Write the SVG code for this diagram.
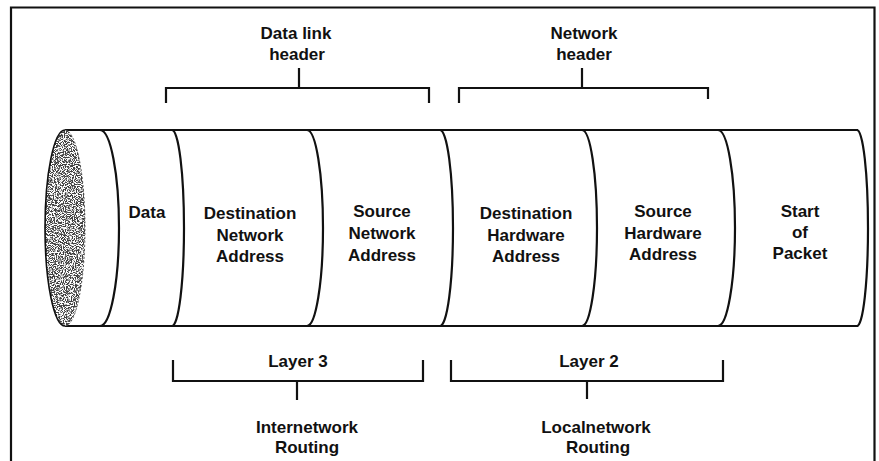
<svg xmlns="http://www.w3.org/2000/svg" width="879" height="461" viewBox="0 0 879 461">
  <style>
    .ln { fill: none; stroke: #111; stroke-width: 2.2; stroke-linecap: butt; }
    .div { fill: none; stroke: #111; stroke-width: 2.2; }
    .t { font-family: "Liberation Sans", Arial, sans-serif; font-weight: bold; font-size: 17px; fill: #111; text-anchor: middle; }
  </style>
  <defs>
    <filter id="stipple" x="0" y="0" width="1" height="1">
      <feTurbulence type="fractalNoise" baseFrequency="0.9" numOctaves="3" seed="11" result="n"/>
      <feColorMatrix in="n" type="matrix" values="0 0 0 0 0.05  0 0 0 0 0.05  0 0 0 0 0.05  -7 0 0 0 4.0" result="d"/>
      <feComposite in="d" in2="SourceGraphic" operator="in"/>
    </filter>
  </defs>
  <rect width="879" height="461" fill="#fff"/>
  <!-- frame -->
  <path class="ln" d="M11,461 V7.5 H874.5 V461"/>

  <!-- tube body -->
  <g id="tube">
    <path class="ln" d="M65,130 H858 M65,326 H858"/>
    <ellipse cx="65" cy="228" rx="20" ry="98" fill="#fff"/>
    <ellipse cx="65" cy="228" rx="20" ry="98" fill="#000" filter="url(#stipple)"/>
    <path d="M65,130 A20,98 0 0 0 65,326" fill="none" stroke="#111" stroke-width="1.6"/>
    <path d="M65,130 A20,98 0 0 1 65,326" fill="none" stroke="#333" stroke-width="0.8" stroke-dasharray="2 2"/>
  </g>

  <g id="segment-data">
    <path class="div" d="M100,130 A19,98 0 0 1 100,326"/>
    <text class="t" x="147" y="218">Data</text>
  </g>
  <g id="segment-dest-net">
    <path class="div" d="M172,130 A12,98 0 0 1 172,326"/>
    <text class="t" x="250" y="219">Destination</text>
    <text class="t" x="250" y="241">Network</text>
    <text class="t" x="250" y="262">Address</text>
  </g>
  <g id="segment-src-net">
    <path class="div" d="M307,130 A16,98 0 0 1 307,326"/>
    <text class="t" x="382" y="217">Source</text>
    <text class="t" x="382" y="239">Network</text>
    <text class="t" x="382" y="261">Address</text>
  </g>
  <g id="segment-dest-hw">
    <path class="div" d="M440,130 A13,98 0 0 1 440,326"/>
    <text class="t" x="526" y="219">Destination</text>
    <text class="t" x="526" y="241">Hardware</text>
    <text class="t" x="526" y="262">Address</text>
  </g>
  <g id="segment-src-hw">
    <path class="div" d="M582,130 A15,98 0 0 1 582,326"/>
    <text class="t" x="663" y="217">Source</text>
    <text class="t" x="663" y="239">Hardware</text>
    <text class="t" x="663" y="260">Address</text>
  </g>
  <g id="segment-start">
    <path class="div" d="M718,130 A17,98 0 0 1 718,326"/>
    <path class="div" d="M857,130 A11,98 0 0 1 857,326"/>
    <text class="t" x="800" y="217">Start</text>
    <text class="t" x="800" y="238">of</text>
    <text class="t" x="800" y="259">Packet</text>
  </g>

  <!-- labels -->
  <g id="label-datalink">
    <text class="t" x="296" y="39">Data link</text>
    <text class="t" x="297" y="60">header</text>
  </g>
  <g id="label-network">
    <text class="t" x="584" y="39">Network</text>
    <text class="t" x="584" y="60">header</text>
  </g>
  <g id="label-layer3">
    <text class="t" x="298" y="367">Layer 3</text>
  </g>
  <g id="label-internetwork">
    <text class="t" x="307" y="433">Internetwork</text>
    <text class="t" x="307" y="453">Routing</text>
  </g>
  <g id="label-layer2">
    <text class="t" x="589" y="367">Layer 2</text>
  </g>
  <g id="label-localnetwork">
    <text class="t" x="596" y="433">Localnetwork</text>
    <text class="t" x="598" y="453">Routing</text>
  </g>

  <!-- brackets -->
  <g id="connectors">
    <path class="ln" d="M166,103 V88 H429 V103 M299,88 V68"/>
    <path class="ln" d="M459,103 V88 H708 V99 M582,88 V68"/>
    <path class="ln" d="M173,360 V381 H423 V360 M297,381 V400"/>
    <path class="ln" d="M451,360 V381 H723 V360 M587,381 V399"/>
  </g>
</svg>
